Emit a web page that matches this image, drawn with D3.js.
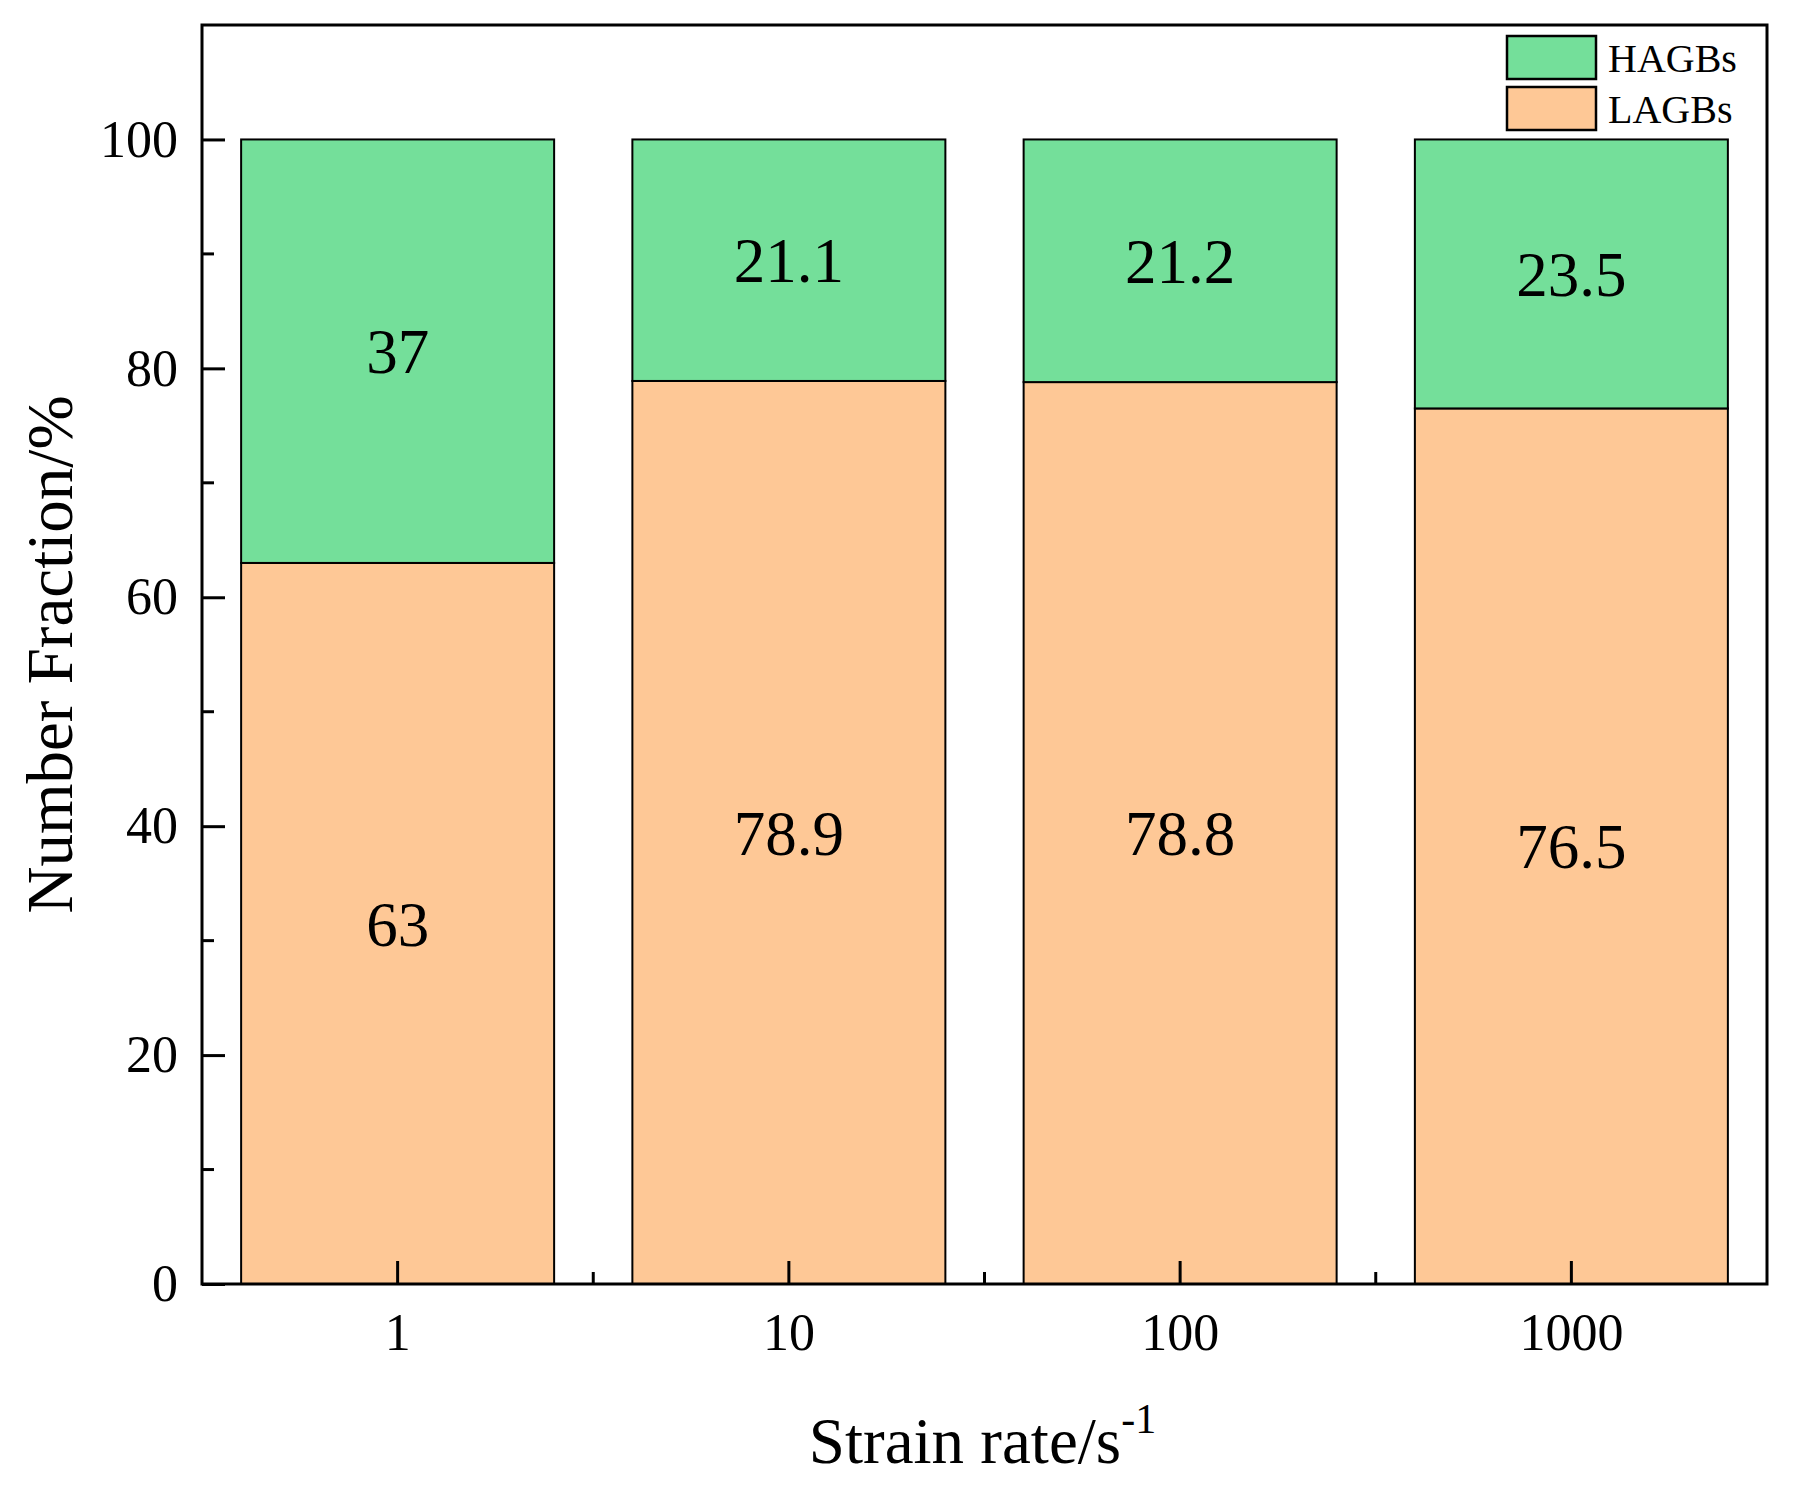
<!DOCTYPE html>
<html>
<head>
<meta charset="utf-8">
<script src="https://cdn.jsdelivr.net/npm/d3@7"></script>
<style>
    body { margin: 0; background: #fff; }
    svg text { font-family: "Liberation Serif", "Times New Roman", serif; fill: #000; }
</style>
</head>
<body>
<div id="chart"></div>
<script>
const rates = ["1", "10", "100", "1000"];
const lagbs = [63, 78.9, 78.8, 76.5];
const hagbs = [37, 21.1, 21.2, 23.5];
const seriesNames = ["LAGBs", "HAGBs"];
const seriesColors = ["#fec896", "#74df9a"];
const yMajor = [0, 20, 40, 60, 80, 100];
const yMinor = [10, 30, 50, 70, 90];

const serif = '"Liberation Serif", "Times New Roman", serif';
const width = 1794, height = 1491;
const margin = { top: 25, right: 27, bottom: 207, left: 202 };
const innerW = width - margin.left - margin.right;
const innerH = height - margin.top - margin.bottom;

const svg = d3.select("#chart").append("svg")
    .attr("width", width).attr("height", height);
const g = svg.append("g").attr("transform", `translate(${margin.left},${margin.top})`);

const x = d3.scaleBand().domain(rates).range([0, innerW]).paddingInner(0.2).paddingOuter(0.1);
const y = d3.scaleLinear().domain([0, 110]).range([innerH, 0]);

// stacked rows
const rows = rates.map((r, i) => ({ rate: r, LAGBs: lagbs[i], HAGBs: hagbs[i] }));
const stacked = d3.stack().keys(seriesNames)(rows);

const layer = g.selectAll(".layer").data(stacked).enter().append("g")
    .attr("class", "layer").attr("fill", (d, i) => seriesColors[i]);

layer.selectAll("rect").data(d => d).enter().append("rect")
    .attr("x", d => x(d.data.rate))
    .attr("width", x.bandwidth())
    .attr("y", d => y(d[1]))
    .attr("height", d => y(d[0]) - y(d[1]))
    .attr("stroke", "#000").attr("stroke-width", 2);

// value labels centred in each segment
layer.selectAll(".val").data(d => d.map(v => ({ v, key: d.key }))).enter().append("text")
    .attr("class", "val")
    .attr("x", d => x(d.v.data.rate) + x.bandwidth() / 2)
    .attr("y", d => y((d.v[0] + d.v[1]) / 2))
    .attr("dy", "0.35em")
    .attr("text-anchor", "middle")
    .attr("fill", "#000")
    .style("font-family", serif).style("font-size", "63px")
    .text(d => d.v.data[d.key]);

// axes, ticks pointing inward
const yAxis = g.append("g")
    .call(d3.axisLeft(y).tickValues(yMajor).tickSize(-23).tickPadding(24));
yAxis.selectAll("text").style("font-family", serif).style("font-size", "52px");

g.append("g").selectAll("line").data(yMinor).enter().append("line")
    .attr("x1", 0).attr("x2", 12)
    .attr("y1", d => y(d)).attr("y2", d => y(d));

const xAxis = g.append("g").attr("transform", `translate(0,${innerH})`)
    .call(d3.axisBottom(x).tickSize(-23).tickPadding(29));
xAxis.selectAll("text").style("font-family", serif).style("font-size", "52px");

const minorX = rates.slice(1).map(r => x(r) - x.step() * x.paddingInner() / 2);
g.append("g").selectAll("line").data(minorX).enter().append("line")
    .attr("x1", d => d).attr("x2", d => d)
    .attr("y1", innerH).attr("y2", innerH - 12);

g.selectAll(".tick line, line").attr("stroke", "#000").attr("stroke-width", 3);
g.selectAll(".domain").remove();

// frame
g.append("rect").attr("width", innerW).attr("height", innerH)
    .attr("fill", "none").attr("stroke", "#000").attr("stroke-width", 3);

// axis titles
const xt = svg.append("text")
    .attr("x", margin.left + innerW / 2 - 2).attr("y", 1463)
    .attr("text-anchor", "middle").style("font-family", serif).style("font-size", "65px");
xt.append("tspan").text("Strain rate/s");
xt.append("tspan").attr("dy", -30).style("font-size", "42px").text("-1");

svg.append("text")
    .attr("transform", `translate(72,${margin.top + innerH / 2}) rotate(-90)`)
    .attr("text-anchor", "middle").style("font-family", serif).style("font-size", "65px")
    .text("Number Fraction/%");

// legend (HAGBs on top)
const legend = svg.append("g").attr("transform", "translate(1507,36)");
const legendItems = [...seriesNames].reverse();
legendItems.forEach((name, i) => {
    const item = legend.append("g").attr("transform", `translate(0,${i * 51})`);
    item.append("rect").attr("width", 89).attr("height", 43)
        .attr("fill", seriesColors[seriesNames.indexOf(name)])
        .attr("stroke", "#000").attr("stroke-width", 2.5);
    item.append("text").attr("x", 101).attr("y", 36)
        .style("font-family", serif).style("font-size", "40px").text(name);
});
</script>
</body>
</html>
